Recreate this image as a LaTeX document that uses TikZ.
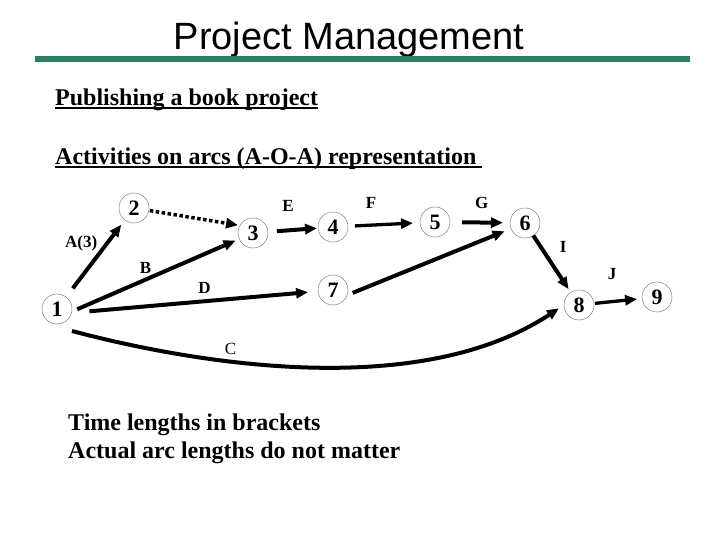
\documentclass[tikz,border=0pt]{standalone}
\usepackage{fontspec}
\setmainfont{Liberation Serif}
\newfontfamily\arialfont{Liberation Sans}
\usetikzlibrary{arrows.meta}
\definecolor{barGreen}{RGB}{46,125,98}
\newcommand\ulinebox[1]{\setbox0\hbox{#1}\rlap{\rule[-3.5pt]{\wd0}{2pt}}\box0}

\begin{document}
\begin{tikzpicture}[
  x=1pt, y=-1pt,
  event/.style={circle, draw=black!50, line width=0.5pt, minimum size=30pt, inner sep=0pt, outer sep=0pt, font=\fontsize{22}{24}\selectfont\bfseries},
  activity/.style={line width=4pt, -{Triangle[length=12pt,width=10pt]}},
  thinact/.style={activity, line width=3.3pt},
  dummy/.style={activity, line width=3.5pt, dash pattern=on 3.5pt off 2.5pt},
  actlabel/.style={inner sep=1pt, font=\fontsize{17}{18}\selectfont\bfseries},
  clabel/.style={inner sep=1pt, font=\fontsize{17}{18}\selectfont},
  heading/.style={anchor=base west, inner sep=0pt, font=\fontsize{24}{28}\selectfont\bfseries}
]
\useasboundingbox (0,0) rectangle (720,540);

% Title and bar
\node[anchor=base, inner sep=0pt, font=\arialfont\fontsize{38}{44}\selectfont] (title) at (349,50) {Project Management};
\fill[barGreen] (35,56.5) rectangle (690,62);

% Headings
\node[heading] (pub) at (55,106) {\ulinebox{Publishing a book project}};
\node[heading] (aoa) at (55,165) {\ulinebox{Activities on arcs (A-O-A) representation\ }};

% Events
\node[event] (n1) at (57,309) {1};
\node[event] (n2) at (134,208) {2};
\node[event] (n3) at (253,233) {3};
\node[event] (n4) at (333,227) {4};
\node[event] (n5) at (435,222) {5};
\node[event] (n6) at (525,223) {6};
\node[event] (n7) at (333,290) {7};
\node[event] (n8) at (579,305) {8};
\node[event] (n9) at (657,297) {9};

% Activities
\draw[activity, shorten <=11pt, shorten >=6pt] (n1) -- node[actlabel, pos=0.7, left=7pt] {A(3)} (n2);
\draw[dummy, shorten <=1pt, shorten >=2pt] (n2) -- (n3.150);
\draw[activity, shorten <=6pt, shorten >=4pt] (n1.-10) -- node[actlabel, pos=0.44, above=3pt] {B} (n3);
\draw[activity, shorten <=18pt, shorten >=10pt] (n1.-15) -- node[actlabel, pos=0.54, above=5pt] {D} (n7);
\draw[activity, shorten <=9pt, shorten >=1pt] (n3) -- node[actlabel, pos=0.4, above=16pt] {E} (n4);
\draw[thinact, shorten <=7pt, shorten >=7pt] (n4) -- node[actlabel, pos=0.32, above=14pt] {F} (n5);
\draw[activity, shorten <=12pt, shorten >=7pt] (n5) -- node[actlabel, pos=0.53, above=11pt] {G} (n6);
\draw[activity, shorten <=6pt, shorten >=7pt] (n7.-20) -- (n6);
\draw[activity, shorten >=4pt] (n6) -- node[actlabel, pos=0.2, right=16pt] {I} (n8);
\draw[thinact, shorten <=1pt, shorten >=5pt] (n8) -- node[actlabel, pos=0.38, above=19pt] {J} (n9);
\draw[activity, shorten >=6pt] ([shift={(15,22)}]n1.center) .. controls (200,365) and (420,400) .. node[clabel, pos=0.345, above=4pt] {C} (n8.west);

% Notes
\node[heading] (note1) at (68,430) {Time lengths in brackets};
\node[heading] (note2) at (68,458) {Actual arc lengths do not matter};
\end{tikzpicture}
\end{document}
